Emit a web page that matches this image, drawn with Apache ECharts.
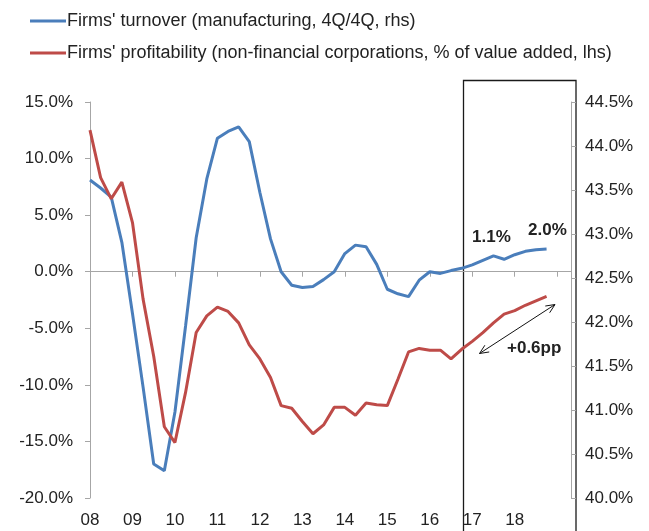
<!DOCTYPE html>
<html>
<head>
<meta charset="utf-8">
<title>Firms' turnover and profitability</title>
<script src="https://cdn.jsdelivr.net/npm/echarts@6/dist/echarts.min.js"></script>
<style>
  html, body { margin: 0; padding: 0; background: #fff; }
  #chart { width: 649px; height: 531px; }
</style>
</head>
<body>
<div id="chart"></div>
<script>
// year labels, one per 4 quarters, starting 2008Q1
const years = ['08', '09', '10', '11', '12', '13', '14', '15', '16', '17', '18'];

// quarterly values 2008Q1 .. 2018Q4 (44 points)
const turnover = [
  8.1, 7.4, 6.6, 2.6,
  -3.7, -10.2, -17.0, -17.6,
  -12.4, -4.8, 3.0, 8.2,
  11.8, 12.4, 12.8, 11.5,
  7.0, 2.9, 0.0, -1.2,
  -1.4, -1.3, -0.7, 0.0,
  1.6, 2.35, 2.2, 0.65,
  -1.55, -1.95, -2.2, -0.75,
  0.0, -0.15, 0.1, 0.3,
  0.6, 1.0, 1.4, 1.1,
  1.5, 1.8, 1.95, 2.0
];
const profitability = [
  44.18, 43.64, 43.40, 43.59,
  43.13, 42.26, 41.61, 40.81,
  40.63, 41.20, 41.88, 42.07,
  42.17, 42.12, 41.99, 41.74,
  41.58, 41.37, 41.05, 41.02,
  40.87, 40.73, 40.83, 41.03,
  41.03, 40.94, 41.08, 41.06,
  41.05, 41.35, 41.66, 41.70,
  41.68, 41.68, 41.58, 41.69,
  41.78, 41.88, 41.99, 42.09,
  42.13, 42.19, 42.24, 42.29
];

const seriesNames = [
  "Firms' turnover (manufacturing, 4Q/4Q, rhs)",
  "Firms' profitability (non-financial corporations, % of value added, lhs)"
];

const FONT = '"Liberation Sans", Arial, sans-serif';
const axisGray = '#a6a6a6';

// double headed arrow with open heads, from p1 to p2
function arrow(p1, p2) {
  const dx = p2[0] - p1[0], dy = p2[1] - p1[1];
  const len = Math.sqrt(dx * dx + dy * dy);
  const ux = dx / len, uy = dy / len;
  const hl = 9, hw = 4;
  const head = (p, s) => {
    const bx = p[0] - s * hl * ux, by = p[1] - s * hl * uy;
    return [[bx + hw * uy, by - hw * ux], p, [bx - hw * uy, by + hw * ux]];
  };
  const st = { stroke: '#111', lineWidth: 1, fill: null };
  return [
    { type: 'line', shape: { x1: p1[0], y1: p1[1], x2: p2[0], y2: p2[1] }, style: st },
    { type: 'polyline', shape: { points: head(p2, 1) }, style: st },
    { type: 'polyline', shape: { points: head(p1, -1) }, style: st }
  ];
}

const chart = echarts.init(document.getElementById('chart'));

const option = {
  animation: false,
  textStyle: { fontFamily: FONT },
  grid: { left: 90, right: 78, top: 102, bottom: 33 },
  legend: {
    orient: 'vertical',
    left: 30,
    top: 12,
    padding: 0,
    itemWidth: 36,
    itemHeight: 3,
    itemGap: 14,
    icon: 'rect',
    data: seriesNames,
    textStyle: { fontSize: 18, color: '#222', fontFamily: FONT, padding: [0, 0, 0, -4] }
  },
  xAxis: [
    {
      // zero line with year ticks
      type: 'value', min: 0, max: 45.3, interval: 4,
      axisLine: { onZero: true, lineStyle: { color: axisGray, width: 1 } },
      axisTick: { show: true, length: 5, lineStyle: { color: axisGray } },
      axisLabel: { show: false },
      splitLine: { show: false }
    },
    {
      // year labels at the bottom
      type: 'value', min: 0, max: 45.3, interval: 4, position: 'bottom',
      axisLine: { show: false, onZero: false },
      axisTick: { show: false },
      axisLabel: {
        margin: 14, fontSize: 17, color: '#222', fontFamily: FONT,
        formatter: v => years[v / 4] || ''
      },
      splitLine: { show: false }
    }
  ],
  yAxis: [
    {
      type: 'value', min: -20, max: 15, interval: 5, position: 'left',
      axisLine: { show: true, onZero: false, lineStyle: { color: axisGray } },
      axisTick: { show: true, length: 5, lineStyle: { color: axisGray } },
      axisLabel: {
        margin: 17, fontSize: 17, color: '#222', fontFamily: FONT,
        formatter: v => v.toFixed(1) + '%'
      },
      splitLine: { show: false }
    },
    {
      type: 'value', min: 40, max: 44.5, interval: 0.5, position: 'right',
      axisLine: { show: true, onZero: false, lineStyle: { color: axisGray } },
      axisTick: { show: true, length: 5, lineStyle: { color: axisGray } },
      axisLabel: {
        margin: 14, fontSize: 17, color: '#222', fontFamily: FONT,
        formatter: v => v.toFixed(1) + '%'
      },
      splitLine: { show: false }
    }
  ],
  series: [
    {
      name: seriesNames[0],
      type: 'line',
      xAxisIndex: 0,
      yAxisIndex: 0,
      symbol: 'none',
      color: '#4a7ebb',
      lineStyle: { width: 3, color: '#4a7ebb' },
      data: turnover.map((v, i) => [i, v])
    },
    {
      name: seriesNames[1],
      type: 'line',
      xAxisIndex: 0,
      yAxisIndex: 1,
      symbol: 'none',
      color: '#be4b48',
      lineStyle: { width: 3, color: '#be4b48' },
      data: profitability.map((v, i) => [i, v])
    }
  ],
  graphic: [
    // forecast box
    {
      type: 'rect', silent: true,
      shape: { x: 463.5, y: 80.5, width: 112.5, height: 470 },
      style: { stroke: '#1a1a1a', lineWidth: 1.3, fill: null }
    },
    {
      type: 'text', left: 472, top: 229,
      style: { text: '1.1%', font: 'bold 17px ' + FONT, fill: '#222' }
    },
    {
      type: 'text', left: 528, top: 222,
      style: { text: '2.0%', font: 'bold 17px ' + FONT, fill: '#222' }
    },
    {
      type: 'text', left: 507, top: 340,
      style: { text: '+0.6pp', font: 'bold 17px ' + FONT, fill: '#222' }
    }
  ].concat(arrow([479.5, 353.5], [555, 304.5]))
};

chart.setOption(option);
</script>
</body>
</html>
